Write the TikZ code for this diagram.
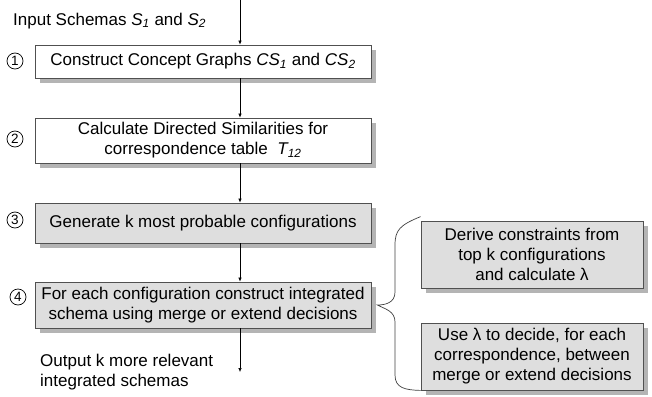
\documentclass[tikz,border=0pt]{standalone}
\usepackage{fontspec}
\setmainfont{Liberation Sans}
\usetikzlibrary{arrows.meta,shadows}
\definecolor{boxline}{HTML}{505050}
\definecolor{boxgray}{HTML}{DEDEDE}
\definecolor{shadowgray}{HTML}{B4B4B4}
\newcommand{\sub}[2]{\textit{#1\textsubscript{#2}}}
\begin{document}
\begin{tikzpicture}[x=1pt,y=-1pt,
  every node/.style={font=\fontsize{17}{20}\selectfont},
  stepbox/.style={draw=boxline,line width=0.8pt,fill=white,align=center,
    inner sep=0pt,
    drop shadow={shadow xshift=5pt,shadow yshift=-5pt,opacity=1,fill=shadowgray}},
  graybox/.style={stepbox,fill=boxgray},
  num/.style={circle,draw=black,line width=0.7pt,minimum size=16pt,inner sep=0pt,
    font=\fontsize{13.5}{13.5}\selectfont},
  flow/.style={draw=black,line width=0.6pt,-{Latex[length=4pt,width=3.5pt]}},
  brace/.style={draw=black!75,line width=0.7pt}]
\useasboundingbox (0,0) rectangle (652,396);

% main steps
\node[stepbox,minimum width=336pt,minimum height=33pt] (s1) at (203,61.5)
  {Construct Concept Graphs \sub{CS}{1} and \sub{CS}{2}};
\node[stepbox,minimum width=336pt,minimum height=45pt] (s2) at (203,140.5)
  {Calculate Directed Similarities for\\correspondence table~~\sub{T}{12}};
\node[graybox,minimum width=336pt,minimum height=40pt] (s3) at (203,223)
  {Generate k most probable configurations};
\node[graybox,minimum width=336pt,minimum height=46pt] (s4) at (203,305)
  {For each configuration construct integrated\\schema using merge or extend decisions};

% side notes for step 4
\node[graybox,minimum width=222pt,minimum height=67pt] (d1) at (532,254.5)
  {Derive constraints from\\top k configurations\\and calculate λ};
\node[graybox,minimum width=222pt,minimum height=67pt] (d2) at (532,356.5)
  {Use λ to decide, for each\\correspondence, between\\merge or extend decisions};

% step numbers
\node[num] (n1) at (15,61) {1};
\node[num] (n2) at (15,139) {2};
\node[num] (n3) at (15,220) {3};
\node[num] (n4) at (18,297) {4};

% input and output
\node[anchor=west,inner sep=0pt] (in) at (13,21) {Input Schemas \sub{S}{1} and \sub{S}{2}};
\node[anchor=west,align=left,inner sep=0pt] (out) at (40,372)
  {Output k more relevant\\integrated schemas};
\coordinate (top) at (240,0);
\coordinate (end) at (240,372);

\draw[flow] (top) -- (s1.north -| top);
\draw[flow] (s1.south -| top) -- (s2.north -| top);
\draw[flow] (s2.south -| top) -- (s3.north -| top);
\draw[flow] (s3.south -| top) -- (s4.north -| top);
\draw[flow] (s4.south -| top) -- (end);

% brace joining step 4 to its notes
\coordinate (tip) at ([xshift=6pt]s4.east);
\draw[brace] ([yshift=4pt]d1.north west) .. controls (400,225) and (395,230) .. (395,245)
  -- (395,292) .. controls (395,303) and (385,305) .. (tip)
  .. controls (385,309) and (395,311) .. (395,322)
  -- (395,375) .. controls (395,388) and (405,390) .. (d2.south west);
\end{tikzpicture}
\end{document}
